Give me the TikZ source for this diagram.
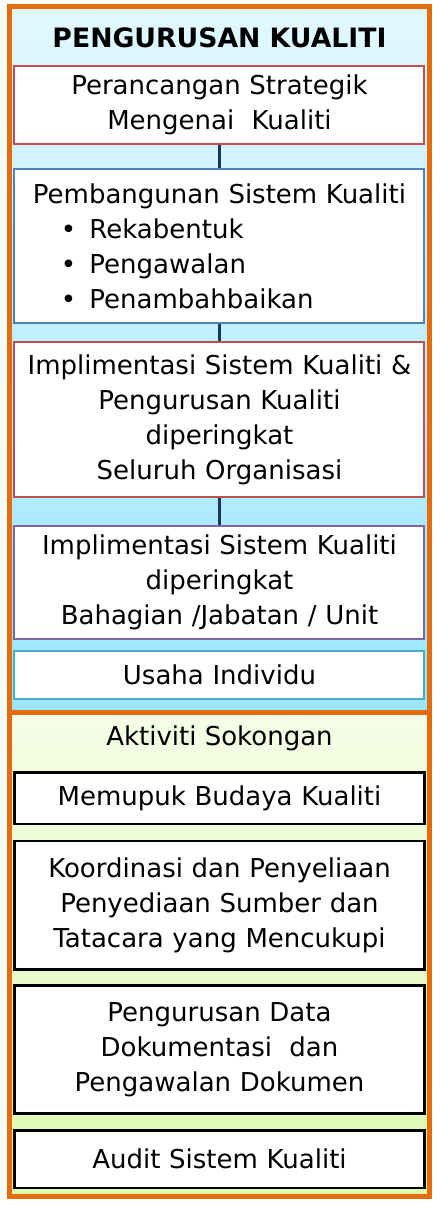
\documentclass[tikz,border=0pt]{standalone}
\usepackage{fontspec}
\setmainfont{DejaVu Sans}
\usepackage{tikz}
\usetikzlibrary{positioning, shadows}
\definecolor{qorange}{RGB}{228,108,10}
\definecolor{qred}{RGB}{192,80,77}
\definecolor{qblue}{RGB}{79,129,189}
\definecolor{qpurple}{RGB}{128,100,162}
\definecolor{qteal}{RGB}{75,172,198}
\definecolor{qnavy}{RGB}{23,55,94}
\definecolor{cyantop}{RGB}{226,248,255}
\definecolor{cyanbot}{RGB}{155,230,255}
\definecolor{greentop}{RGB}{245,253,230}
\definecolor{greenbot}{RGB}{222,250,176}
\tikzset{
  panel/.style = {draw=qorange, line width=3.75pt},
  qbox/.style = {shape=rectangle, draw, fill=white,
                 anchor=north, text width=300pt, align=center,
                 inner sep=3.75pt, line width=1.5pt,
                 font=\fontsize{19.5}{26.25}\selectfont},
  blackbox/.style = {qbox, draw=black, line width=1.9pt},
  link/.style = {line width=2.25pt, draw=qnavy}
}

\begin{document}
\begin{tikzpicture}
            \useasboundingbox (0,0) rectangle (329.25pt,-906.75pt);
            % panels
            \fill [drop shadow={opacity=0.25, shadow xshift=2pt, shadow yshift=-2pt},
                   top color=cyantop, bottom color=cyanbot]
                  (7.125pt,-4.875pt) rectangle (322.125pt,-534pt);
            \fill [drop shadow={opacity=0.25, shadow xshift=2pt, shadow yshift=-2pt},
                   top color=greentop, bottom color=greenbot]
                  (7.125pt,-534pt) rectangle (322.125pt,-897pt);
            \draw [panel] (7.125pt,-4.875pt) rectangle (322.125pt,-534pt);
            \draw [panel] (7.125pt,-534pt) rectangle (322.125pt,-897pt);

            \node (title) at (164.6pt,-28.5pt)
                  {\fontsize{20}{24}\selectfont\bfseries PENGURUSAN KUALITI};
            \node (strat) [qbox, draw=qred, minimum height=58.75pt]
                  at (164.6pt,-48.75pt) {Perancangan Strategik\\Mengenai\ \ Kualiti};
            \node (bina) [qbox, draw=qblue, minimum height=115pt, align=left,
                  below=17.25pt of strat]
                  {\makebox[\linewidth]{Pembangunan Sistem Kualiti}\\
                   \hspace*{31pt}\makebox[21.5pt][l]{\textbullet}Rekabentuk\\
                   \hspace*{31pt}\makebox[21.5pt][l]{\textbullet}Pengawalan\\
                   \hspace*{31pt}\makebox[21.5pt][l]{\textbullet}Penambahbaikan};
            \node (org) [qbox, draw=qred, minimum height=116.5pt, below=12.75pt of bina]
                  {Implimentasi Sistem Kualiti \&\\Pengurusan Kualiti\\diperingkat\\Seluruh Organisasi};
            \node (unit) [qbox, draw=qpurple, minimum height=85pt, below=20.25pt of org]
                  {Implimentasi Sistem Kualiti\\diperingkat\\Bahagian /Jabatan / Unit};
            \node (indiv) [qbox, draw=qteal, minimum height=35.5pt, below=7.5pt of unit]
                  {Usaha Individu};

            \draw [link] (strat) -- (bina);
            \draw [link] (bina) -- (org);
            \draw [link] (org) -- (unit);

            \node (sokong) [font=\fontsize{19.5}{26.25}\selectfont] at (164.6pt,-553.5pt)
                  {Aktiviti Sokongan};
            \node (budaya) [blackbox, minimum height=38.75pt] at (164.6pt,-578.25pt)
                  {Memupuk Budaya Kualiti};
            \node (koord) [blackbox, minimum height=96.5pt, below=10.85pt of budaya]
                  {Koordinasi dan Penyeliaan\\Penyediaan Sumber dan\\Tatacara yang Mencukupi};
            \node (dok) [blackbox, minimum height=95.75pt, below=10.1pt of koord]
                  {Pengurusan Data\\Dokumentasi\ \ dan\\Pengawalan Dokumen};
            \node (audit) [blackbox, minimum height=43.25pt, below=10.85pt of dok]
                  {Audit Sistem Kualiti};
        \end{tikzpicture}
\end{document}
